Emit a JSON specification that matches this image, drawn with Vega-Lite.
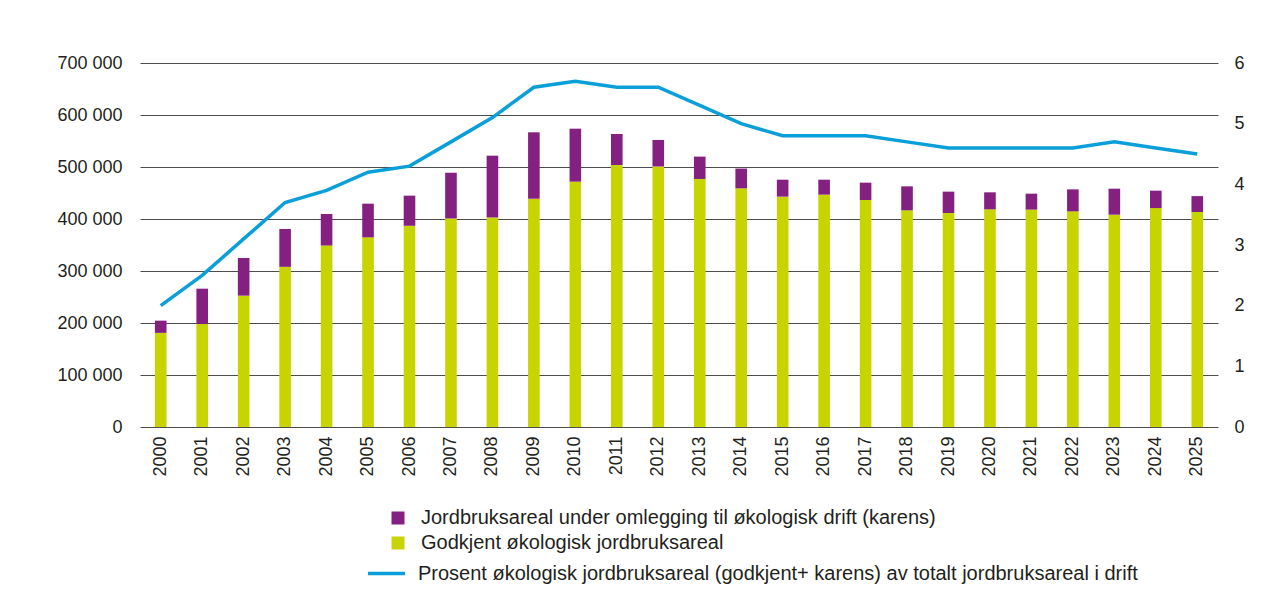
{
  "$schema": "https://vega.github.io/schema/vega-lite/v6.json",
  "width": 1078,
  "height": 364,
  "autosize": {"type": "none"},
  "padding": {"left": 140, "top": 63, "right": 55, "bottom": 183},
  "background": "white",
  "config": {
    "font": "Liberation Sans",
    "view": {"stroke": null},
    "locale": {"number": {"decimal": ",", "thousands": " ", "grouping": [3], "currency": ["", " kr"]}},
    "axis": {"labelColor": "#231f20", "labelFontSize": 18, "domain": false, "ticks": false, "title": null},
    "legend": {"labelColor": "#231f20", "labelFontSize": 20, "padding": 0, "title": null, "labelLimit": 900}
  },
  "datasets": {
    "bars": [
      {"year": "2000", "series": "Godkjent økologisk jordbruksareal", "area": 181000},
      {"year": "2000", "series": "Jordbruksareal under omlegging til økologisk drift (karens)", "area": 23500},
      {"year": "2001", "series": "Godkjent økologisk jordbruksareal", "area": 198000},
      {"year": "2001", "series": "Jordbruksareal under omlegging til økologisk drift (karens)", "area": 68000},
      {"year": "2002", "series": "Godkjent økologisk jordbruksareal", "area": 252600},
      {"year": "2002", "series": "Jordbruksareal under omlegging til økologisk drift (karens)", "area": 72400},
      {"year": "2003", "series": "Godkjent økologisk jordbruksareal", "area": 308000},
      {"year": "2003", "series": "Jordbruksareal under omlegging til økologisk drift (karens)", "area": 72800},
      {"year": "2004", "series": "Godkjent økologisk jordbruksareal", "area": 349000},
      {"year": "2004", "series": "Jordbruksareal under omlegging til økologisk drift (karens)", "area": 60600},
      {"year": "2005", "series": "Godkjent økologisk jordbruksareal", "area": 364700},
      {"year": "2005", "series": "Jordbruksareal under omlegging til økologisk drift (karens)", "area": 64800},
      {"year": "2006", "series": "Godkjent økologisk jordbruksareal", "area": 387000},
      {"year": "2006", "series": "Jordbruksareal under omlegging til økologisk drift (karens)", "area": 57900},
      {"year": "2007", "series": "Godkjent økologisk jordbruksareal", "area": 401000},
      {"year": "2007", "series": "Jordbruksareal under omlegging til økologisk drift (karens)", "area": 88000},
      {"year": "2008", "series": "Godkjent økologisk jordbruksareal", "area": 403000},
      {"year": "2008", "series": "Jordbruksareal under omlegging til økologisk drift (karens)", "area": 118800},
      {"year": "2009", "series": "Godkjent økologisk jordbruksareal", "area": 439000},
      {"year": "2009", "series": "Jordbruksareal under omlegging til økologisk drift (karens)", "area": 127700},
      {"year": "2010", "series": "Godkjent økologisk jordbruksareal", "area": 471800},
      {"year": "2010", "series": "Jordbruksareal under omlegging til økologisk drift (karens)", "area": 101900},
      {"year": "2011", "series": "Godkjent økologisk jordbruksareal", "area": 503800},
      {"year": "2011", "series": "Jordbruksareal under omlegging til økologisk drift (karens)", "area": 59700},
      {"year": "2012", "series": "Godkjent økologisk jordbruksareal", "area": 501000},
      {"year": "2012", "series": "Jordbruksareal under omlegging til økologisk drift (karens)", "area": 51000},
      {"year": "2013", "series": "Godkjent økologisk jordbruksareal", "area": 477000},
      {"year": "2013", "series": "Jordbruksareal under omlegging til økologisk drift (karens)", "area": 43000},
      {"year": "2014", "series": "Godkjent økologisk jordbruksareal", "area": 459000},
      {"year": "2014", "series": "Jordbruksareal under omlegging til økologisk drift (karens)", "area": 38000},
      {"year": "2015", "series": "Godkjent økologisk jordbruksareal", "area": 443000},
      {"year": "2015", "series": "Jordbruksareal under omlegging til økologisk drift (karens)", "area": 32600},
      {"year": "2016", "series": "Godkjent økologisk jordbruksareal", "area": 446800},
      {"year": "2016", "series": "Jordbruksareal under omlegging til økologisk drift (karens)", "area": 28800},
      {"year": "2017", "series": "Godkjent økologisk jordbruksareal", "area": 436500},
      {"year": "2017", "series": "Jordbruksareal under omlegging til økologisk drift (karens)", "area": 33400},
      {"year": "2018", "series": "Godkjent økologisk jordbruksareal", "area": 416700},
      {"year": "2018", "series": "Jordbruksareal under omlegging til økologisk drift (karens)", "area": 46100},
      {"year": "2019", "series": "Godkjent økologisk jordbruksareal", "area": 411500},
      {"year": "2019", "series": "Jordbruksareal under omlegging til økologisk drift (karens)", "area": 41100},
      {"year": "2020", "series": "Godkjent økologisk jordbruksareal", "area": 418600},
      {"year": "2020", "series": "Jordbruksareal under omlegging til økologisk drift (karens)", "area": 32700},
      {"year": "2021", "series": "Godkjent økologisk jordbruksareal", "area": 418000},
      {"year": "2021", "series": "Jordbruksareal under omlegging til økologisk drift (karens)", "area": 30700},
      {"year": "2022", "series": "Godkjent økologisk jordbruksareal", "area": 414700},
      {"year": "2022", "series": "Jordbruksareal under omlegging til økologisk drift (karens)", "area": 42300},
      {"year": "2023", "series": "Godkjent økologisk jordbruksareal", "area": 408300},
      {"year": "2023", "series": "Jordbruksareal under omlegging til økologisk drift (karens)", "area": 50000},
      {"year": "2024", "series": "Godkjent økologisk jordbruksareal", "area": 421000},
      {"year": "2024", "series": "Jordbruksareal under omlegging til økologisk drift (karens)", "area": 33500},
      {"year": "2025", "series": "Godkjent økologisk jordbruksareal", "area": 413500},
      {"year": "2025", "series": "Jordbruksareal under omlegging til økologisk drift (karens)", "area": 30500}
    ],
    "line": [
      {"year": "2000", "percent": 2.0},
      {"year": "2001", "percent": 2.5},
      {"year": "2002", "percent": 3.1},
      {"year": "2003", "percent": 3.7},
      {"year": "2004", "percent": 3.9},
      {"year": "2005", "percent": 4.2},
      {"year": "2006", "percent": 4.3},
      {"year": "2007", "percent": 4.7},
      {"year": "2008", "percent": 5.1},
      {"year": "2009", "percent": 5.6},
      {"year": "2010", "percent": 5.7},
      {"year": "2011", "percent": 5.6},
      {"year": "2012", "percent": 5.6},
      {"year": "2013", "percent": 5.3},
      {"year": "2014", "percent": 5.0},
      {"year": "2015", "percent": 4.8},
      {"year": "2016", "percent": 4.8},
      {"year": "2017", "percent": 4.8},
      {"year": "2018", "percent": 4.7},
      {"year": "2019", "percent": 4.6},
      {"year": "2020", "percent": 4.6},
      {"year": "2021", "percent": 4.6},
      {"year": "2022", "percent": 4.6},
      {"year": "2023", "percent": 4.7},
      {"year": "2024", "percent": 4.6},
      {"year": "2025", "percent": 4.5}
    ]
  },
  "encoding": {
    "x": {
      "field": "year",
      "type": "ordinal",
      "scale": {"paddingInner": 0.72, "paddingOuter": 0.36},
      "axis": {"labelAngle": -90, "labelPadding": 9, "grid": false}
    }
  },
  "layer": [
    {
      "data": {"name": "bars"},
      "mark": {"type": "bar"},
      "encoding": {
        "y": {
          "field": "area",
          "type": "quantitative",
          "aggregate": "sum",
          "stack": "zero",
          "scale": {"domain": [0, 700000], "nice": false},
          "axis": {"values": [0, 100000, 200000, 300000, 400000, 500000, 600000, 700000], "format": ",d", "labelPadding": 18, "grid": true, "gridColor": "#4d4d4d", "gridWidth": 1, "gridOpacity": 1}
        },
        "color": {
          "field": "series",
          "type": "nominal",
          "scale": {
            "domain": ["Jordbruksareal under omlegging til økologisk drift (karens)", "Godkjent økologisk jordbruksareal"],
            "range": ["#84207f", "#c8d400"]
          },
          "legend": {"orient": "none", "legendX": 248, "legendY": 445, "symbolType": "square", "symbolSize": 169, "symbolStrokeWidth": 0, "labelOffset": 13, "rowPadding": 5}
        },
        "order": {"field": "series", "sort": "ascending"}
      }
    },
    {
      "data": {"name": "line"},
      "mark": {"type": "line", "strokeWidth": 3.5, "strokeJoin": "miter"},
      "encoding": {
        "y": {
          "field": "percent",
          "type": "quantitative",
          "scale": {"domain": [0, 6], "nice": false},
          "axis": {"orient": "right", "values": [0, 1, 2, 3, 4, 5, 6], "labelPadding": 16, "grid": false}
        },
        "stroke": {
          "datum": "Prosent økologisk jordbruksareal (godkjent+ karens) av totalt jordbruksareal i drift",
          "type": "nominal",
          "scale": {"range": ["#0a9fd8"]},
          "legend": {"orient": "none", "legendX": 226, "legendY": 490, "symbolType": "stroke", "symbolSize": 1369, "symbolStrokeWidth": 3.5, "labelOffset": 11}
        }
      }
    }
  ],
  "resolve": {"scale": {"y": "independent"}}
}
